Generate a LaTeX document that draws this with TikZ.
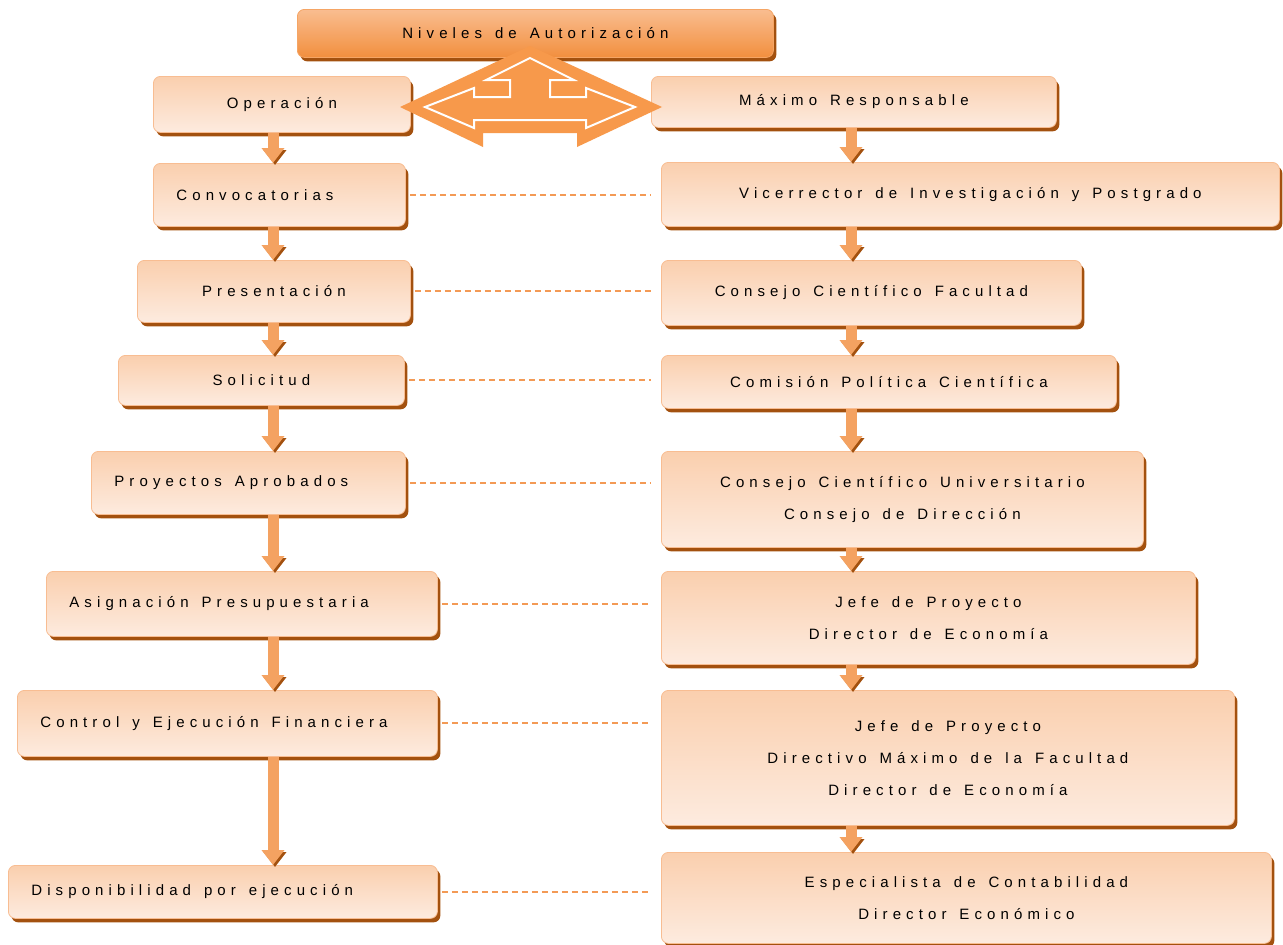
\documentclass[tikz,border=0pt]{standalone}
\usepackage{fontspec}
\newfontfamily\spaced[LetterSpace=34,WordSpace=1.4]{Liberation Sans}
\usetikzlibrary{arrows.meta,shadows}
\definecolor{boxtop}{HTML}{FACFAE}
\definecolor{boxbot}{HTML}{FDEBDF}
\definecolor{boxline}{HTML}{F8BD92}
\definecolor{titletop}{HTML}{F9BD90}
\definecolor{titlebot}{HTML}{F28F3E}
\definecolor{shadowbrown}{HTML}{A3510F}
\definecolor{flowfill}{HTML}{F4A261}
\definecolor{linkorange}{HTML}{F39A55}
\definecolor{shapefill}{HTML}{F7994B}
\tikzset{level/.style={%
  draw=boxline,
  line width=0.8pt,
  rounded corners=7pt,
  top color=boxtop,
  bottom color=boxbot,
  drop shadow={shadow xshift=3pt,shadow yshift=-4pt,fill=shadowbrown,opacity=1},
  anchor=north west,
  inner sep=0pt,
  font=\spaced\fontsize{15}{32}\selectfont,
  }
}
\tikzset{padded/.style={%
  execute at begin node={\hbox to #1\bgroup},
  execute at end node={\hfil\egroup},
  }
}
\tikzset{flow/.style={%
  draw=flowfill,
  line width=11pt,
  -{Triangle[width=22pt,length=15pt]},
  preaction={draw=shadowbrown,transform canvas={shift={(2pt,-2pt)}}},
  }
}
\tikzset{link/.style={%
  draw=linkorange,
  line width=2pt,
  dash pattern=on 6pt off 4pt,
  shorten <=4pt,
  shorten >=10pt,
  }
}

\begin{document}
\begin{tikzpicture}[x=1pt,y=-1pt]
  \useasboundingbox (0,0) rectangle (1283,945);

  \node (title) [level, top color=titletop, bottom color=titlebot, draw=titlebot!80!white, minimum width=476pt, minimum height=48pt] at (297,9) {Niveles de Autorización};

  % left column
  \node (oper) [level, minimum width=257pt, minimum height=56pt] at (153,76) {Operación};
  \node (conv) [level, padded=206pt, minimum width=252pt, minimum height=63pt] at (153,163) {Convocatorias};
  \node (pres) [level, minimum width=273pt, minimum height=62pt] at (137,260) {Presentación};
  \node (soli) [level, minimum width=286pt, minimum height=50pt] at (118,355) {Solicitud};
  \node (proy) [level, padded=268pt, minimum width=314pt, minimum height=63pt] at (91,451) {Proyectos Aprobados};
  \node (asig) [level, padded=345pt, minimum width=391pt, minimum height=65pt] at (46,571) {Asignación Presupuestaria};
  \node (ctrl) [level, padded=374pt, minimum width=420pt, minimum height=66pt] at (17,690) {Control y Ejecución Financiera};
  \node (disp) [level, padded=383pt, minimum width=429pt, minimum height=53pt] at (8,865) {Disponibilidad por ejecución};

  % right column
  \node (maxr) [level, minimum width=405pt, minimum height=51pt] at (651,76) {Máximo Responsable};
  \node (vice) [level, minimum width=618pt, minimum height=64pt] at (661,162) {Vicerrector de Investigación y Postgrado};
  \node (ccf) [level, minimum width=420pt, minimum height=65pt] at (661,260) {Consejo Científico Facultad};
  \node (cpc) [level, minimum width=455pt, minimum height=53pt] at (661,355) {Comisión Política Científica};
  \node (ccu) [level, align=center, minimum width=482pt, minimum height=96pt] at (661,451) {Consejo Científico Universitario\\Consejo de Dirección};
  \node (jefe) [level, align=center, minimum width=534pt, minimum height=93pt] at (661,571) {Jefe de Proyecto\\Director de Economía};
  \node (dire) [level, align=center, minimum width=573pt, minimum height=135pt] at (661,690) {Jefe de Proyecto\\Directivo Máximo de la Facultad\\Director de Economía};
  \node (espe) [level, align=center, minimum width=610pt, minimum height=91pt] at (661,852) {Especialista de Contabilidad\\Director Económico};

  \coordinate (laxis) at (273,0);
  \coordinate (raxis) at (851,0);

  \draw [flow] (oper.south -| laxis) -- (conv.north -| laxis);
  \draw [flow] (conv.south -| laxis) -- (pres.north -| laxis);
  \draw [flow] (pres.south -| laxis) -- (soli.north -| laxis);
  \draw [flow] (soli.south -| laxis) -- (proy.north -| laxis);
  \draw [flow] (proy.south -| laxis) -- (asig.north -| laxis);
  \draw [flow] (asig.south -| laxis) -- (ctrl.north -| laxis);
  \draw [flow] (ctrl.south -| laxis) -- (disp.north -| laxis);

  \draw [flow] (maxr.south -| raxis) -- (vice.north -| raxis);
  \draw [flow] (vice.south -| raxis) -- (ccf.north -| raxis);
  \draw [flow] (ccf.south -| raxis) -- (cpc.north -| raxis);
  \draw [flow] (cpc.south -| raxis) -- (ccu.north -| raxis);
  \draw [flow] (ccu.south -| raxis) -- (jefe.north -| raxis);
  \draw [flow] (jefe.south -| raxis) -- (dire.north -| raxis);
  \draw [flow] (dire.south -| raxis) -- (espe.north -| raxis);

  \draw [link] (conv.east) -- (conv.east -| vice.west);
  \draw [link] (pres.east) -- (pres.east -| ccf.west);
  \draw [link] (soli.east) -- (soli.east -| cpc.west);
  \draw [link] (proy.east) -- (proy.east -| ccu.west);
  \draw [link] (asig.east) -- (asig.east -| jefe.west);
  \draw [link] (ctrl.east) -- (ctrl.east -| dire.west);
  \draw [link] (disp.east) -- (disp.east -| espe.west);

  % left-right-up arrow between the columns
  \fill [shapefill] (530,46) -- (662,107) -- (577,147) -- (577,133) -- (483,133) -- (483,147) -- (400,107) -- cycle;
  \draw [white, line width=2pt] (425,107) -- (474,88) -- (474,97) -- (510,97) -- (510,80) -- (486,80) -- (530,58) -- (574,80) -- (550,80) -- (550,97) -- (586,97) -- (586,88) -- (635,107) -- (586,128) -- (586,120) -- (474,120) -- (474,128) -- cycle;
\end{tikzpicture}
\end{document}
